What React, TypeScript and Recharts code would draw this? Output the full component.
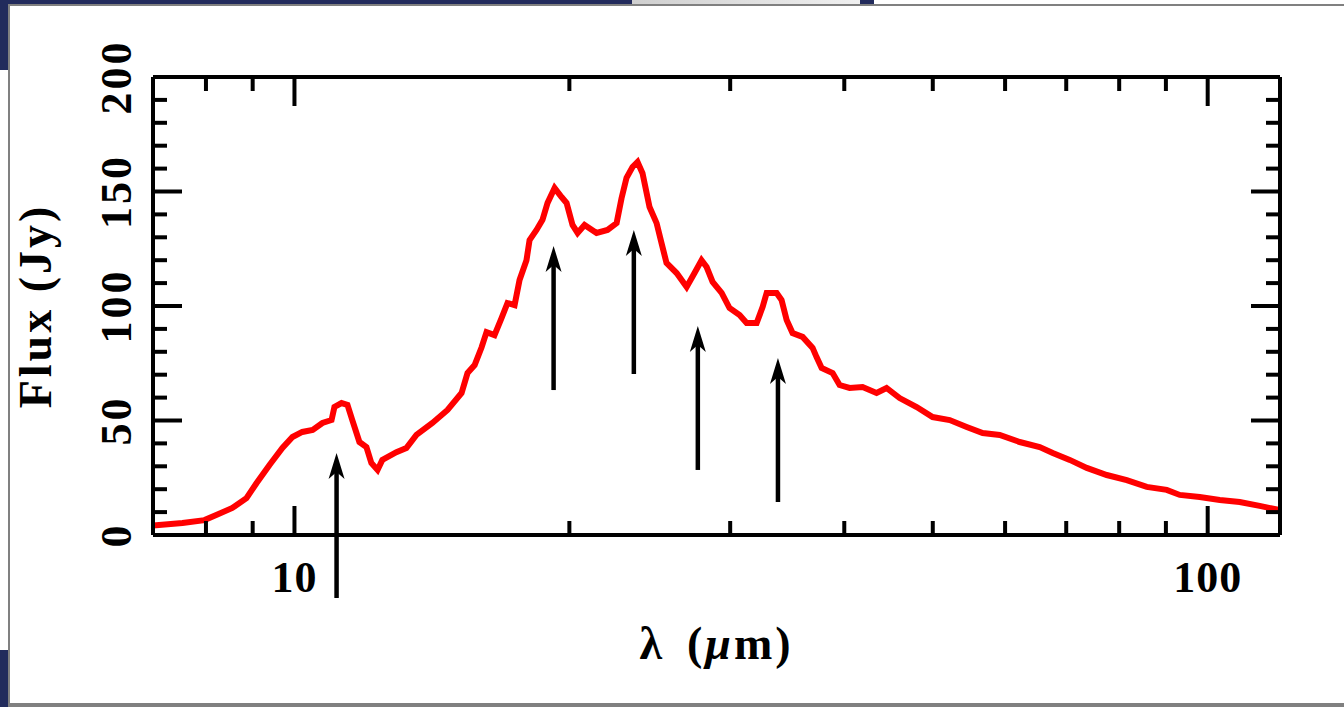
import React from 'react';
import { LineChart, Line, XAxis, YAxis, ReferenceLine } from 'recharts';

// Spectrum: wavelength (micron) and flux (Jy)
const wavelength = [
  7.0, 7.54, 7.97, 8.21, 8.55, 8.86, 9.09, 9.39, 9.7, 9.95,
  10.2, 10.47, 10.73, 10.98, 11.06, 11.26, 11.43, 11.57, 11.78, 11.99,
  12.14, 12.33, 12.48, 12.93, 13.26, 13.6, 14.16, 14.71, 15.24, 15.47,
  15.75, 16.03, 16.23, 16.56, 16.86, 17.11, 17.42, 17.64, 17.95, 18.09,
  18.41, 18.69, 18.93, 19.27, 19.61, 19.86, 20.16, 20.42, 20.78, 21.42,
  22.02, 22.53, 22.81, 23.1, 23.45, 23.75, 24.05, 24.48, 24.92, 25.23,
  25.55, 26.21, 26.88, 27.42, 27.91, 28.27, 28.7, 29.36, 29.95, 30.72,
  31.27, 32.07, 32.56, 32.89, 33.73, 34.15, 34.59, 35.11, 36.01, 36.93,
  37.3, 37.78, 38.84, 39.53, 40.54, 41.89, 43.39, 44.5, 45.99, 48.01,
  49.98, 52.18, 54.46, 56.7, 59.19, 62.25, 65.47, 67.66, 70.62, 73.72,
  77.53, 81.54, 85.76, 90.19, 93.2, 98.0, 103.1, 108.4, 114.0, 119.9,
];
const flux = [
  4.1, 5.2, 6.5, 8.7, 11.8, 16.1, 22.7, 30.6, 38.0, 42.8,
  45.0, 45.9, 48.9, 50.2, 55.9, 57.6, 56.8, 50.2, 40.6, 38.4,
  31.4, 28.4, 32.8, 36.2, 38.0, 43.7, 48.9, 54.6, 62.0, 70.7,
  74.2, 82.0, 88.6, 87.3, 94.8, 101.3, 100.4, 111.4, 120.0, 128.8,
  133.2, 137.6, 145.0, 151.5, 147.6, 145.0, 135.4, 131.9, 135.4, 131.9,
  133.2, 136.2, 147.0, 156.0, 160.7, 162.9, 158.0, 143.2, 136.2, 127.5,
  118.8, 114.4, 108.3, 114.4, 120.0, 117.0, 110.5, 105.7, 99.1, 96.1,
  92.6, 92.6, 99.6, 105.7, 105.7, 102.6, 93.9, 88.2, 86.5, 81.7,
  77.7, 72.9, 70.7, 65.5, 64.2, 64.6, 62.0, 64.2, 59.8, 55.9,
  51.5, 50.2, 47.2, 44.5, 43.7, 40.6, 38.4, 35.8, 32.8, 29.3,
  26.2, 24.0, 21.0, 19.7, 17.5, 16.6, 15.3, 14.4, 12.7, 10.9,
];

// Axes
const xDomain = [7, 120];
const xTicks = [8, 9, 10, 20, 30, 40, 50, 60, 70, 80, 90, 100];
const xLabelTicks = [10, 100];
const yDomain = [0, 200];
const yTicks = [0, 10, 20, 30, 40, 50, 60, 70, 80, 90, 100, 110, 120, 130, 140, 150, 160, 170, 180, 190, 200];
const yLabelTicks = [0, 50, 100, 150, 200];

// Feature arrows (wavelength, tail flux, tip flux)
const arrowWavelength = [11.12, 19.22, 23.53, 27.65, 33.84];
const arrowFrom = [-27.5, 63.3, 70.3, 28.4, 14.4];
const arrowTo = [35.8, 126.2, 133.2, 91.3, 77.3];

const data = wavelength.map((w, i) => ({ w, f: flux[i] }));

const FONT = "'Liberation Serif', 'Times New Roman', serif";
const MAJOR = 29;
const MINOR = 14;
const TW = 4;

const BottomTick = (props: any) => {
  const { x, y, payload } = props;
  const major = xLabelTicks.includes(payload.value);
  return (
    <g>
      <line x1={x} x2={x} y1={y} y2={y - (major ? MAJOR : MINOR)} stroke="#000" strokeWidth={TW} />
      {major && (
        <text x={x} y={y + 57} textAnchor="middle" fontFamily={FONT} fontWeight="bold" fontSize={44} letterSpacing={1} fill="#000">
          {payload.value}
        </text>
      )}
    </g>
  );
};

const TopTick = (props: any) => {
  const { x, y, payload } = props;
  const major = xLabelTicks.includes(payload.value);
  return <line x1={x} x2={x} y1={y} y2={y + (major ? MAJOR : MINOR)} stroke="#000" strokeWidth={TW} />;
};

const LeftTick = (props: any) => {
  const { x, y, payload } = props;
  const major = yLabelTicks.includes(payload.value);
  return (
    <g>
      <line x1={x} x2={x + (major ? MAJOR : MINOR)} y1={y} y2={y} stroke="#000" strokeWidth={TW} />
      {major && (
        <text
          x={x - 22}
          y={y}
          transform={`rotate(-90 ${x - 22} ${y})`}
          textAnchor="middle"
          fontFamily={FONT}
          fontWeight="bold"
          fontSize={44}
          letterSpacing={3}
          fill="#000"
        >
          {payload.value}
        </text>
      )}
    </g>
  );
};

const RightTick = (props: any) => {
  const { x, y, payload } = props;
  const major = yLabelTicks.includes(payload.value);
  return <line x1={x} x2={x - (major ? MAJOR : MINOR)} y1={y} y2={y} stroke="#000" strokeWidth={TW} />;
};

const ArrowShape = (props: any) => {
  const { x1, y1, x2, y2 } = props;
  const headLen = 26;
  const half = 8;
  const notch = 7;
  return (
    <g>
      <line x1={x1} y1={y1} x2={x2} y2={y2 + headLen - notch} stroke="#000" strokeWidth={4.5} />
      <path
        d={`M${x2},${y2} L${x2 - half},${y2 + headLen} L${x2},${y2 + headLen - notch} L${x2 + half},${y2 + headLen} Z`}
        fill="#000"
      />
    </g>
  );
};

const XLabel = (props: any) => {
  const vb = props.viewBox || {};
  const cx = vb.x + vb.width / 2;
  return (
    <text x={cx} y={vb.y + 124} textAnchor="middle" fontFamily={FONT} fontWeight="bold" fontSize={46} letterSpacing={3} fill="#000">
      λ<tspan dx={22}>(</tspan>
      <tspan fontStyle="italic">μ</tspan>m)
    </text>
  );
};

const YLabel = (props: any) => {
  const vb = props.viewBox || {};
  const x = 51;
  const y = vb.y + vb.height / 2;
  return (
    <text
      x={x}
      y={y}
      transform={`rotate(-90 ${x} ${y})`}
      textAnchor="middle"
      fontFamily={FONT}
      fontWeight="bold"
      fontSize={46}
      letterSpacing={3}
      fill="#000"
    >
      Flux (Jy)
    </text>
  );
};

export default function App() {
  const navy = '#222b5c';
  return (
    <div style={{ position: 'absolute', left: 0, top: 0, width: 1344, height: 707, background: '#fff', overflow: 'hidden' }}>
      <div style={{ position: 'absolute', left: 0, top: 0, width: 632, height: 6, background: navy }} />
      <div style={{ position: 'absolute', left: 632, top: 0, width: 228, height: 6, background: 'linear-gradient(90deg,#cfcfcf,#f0f0f0)' }} />
      <div style={{ position: 'absolute', left: 860, top: 0, width: 14, height: 6, background: navy }} />
      <div style={{ position: 'absolute', left: 0, top: 0, width: 8, height: 70, background: navy }} />
      <div style={{ position: 'absolute', left: 0, top: 650, width: 8, height: 57, background: navy }} />
      <div
        style={{
          position: 'absolute',
          left: 8,
          top: 4,
          width: 1344,
          height: 697,
          background: '#fff',
          borderLeft: '2px solid #808080',
          borderTop: '2px solid #808080',
          borderBottom: '4px solid #808080',
        }}
      />
      <div style={{ position: 'absolute', left: 0, top: 0 }}>
        <LineChart width={1344} height={707} data={data} margin={{ top: 57, right: 44, bottom: 112, left: 73 }}>
          <XAxis
            xAxisId="bottom"
            dataKey="w"
            type="number"
            scale="log"
            domain={xDomain}
            ticks={xTicks}
            allowDataOverflow
            orientation="bottom"
            height={60}
            tickSize={0}
            tickMargin={0}
            tickLine={false}
            interval={0}
            axisLine={{ stroke: '#000', strokeWidth: TW }}
            tick={<BottomTick />}
            label={<XLabel />}
          />
          <XAxis
            xAxisId="top"
            dataKey="w"
            type="number"
            scale="log"
            domain={xDomain}
            ticks={xTicks}
            allowDataOverflow
            orientation="top"
            height={20}
            tickSize={0}
            tickMargin={0}
            tickLine={false}
            interval={0}
            axisLine={{ stroke: '#000', strokeWidth: TW }}
            tick={<TopTick />}
          />
          <YAxis
            yAxisId="left"
            type="number"
            domain={yDomain}
            ticks={yTicks}
            allowDataOverflow
            orientation="left"
            width={80}
            tickSize={0}
            tickMargin={0}
            tickLine={false}
            interval={0}
            axisLine={{ stroke: '#000', strokeWidth: TW }}
            tick={<LeftTick />}
            label={<YLabel />}
          />
          <YAxis
            yAxisId="right"
            type="number"
            domain={yDomain}
            ticks={yTicks}
            allowDataOverflow
            orientation="right"
            width={20}
            tickSize={0}
            tickMargin={0}
            tickLine={false}
            interval={0}
            axisLine={{ stroke: '#000', strokeWidth: TW }}
            tick={<RightTick />}
          />
          <Line
            xAxisId="bottom"
            yAxisId="left"
            dataKey="f"
            type="linear"
            stroke="#ff0000"
            strokeWidth={6}
            dot={false}
            activeDot={false}
            isAnimationActive={false}
          />
          {arrowWavelength.map((w, i) => (
            <ReferenceLine
              key={i}
              xAxisId="bottom"
              yAxisId="left"
              segment={[
                { x: w, y: arrowFrom[i] },
                { x: w, y: arrowTo[i] },
              ]}
              ifOverflow="visible"
              stroke="#000"
              shape={ArrowShape}
            />
          ))}
        </LineChart>
      </div>
    </div>
  );
}
